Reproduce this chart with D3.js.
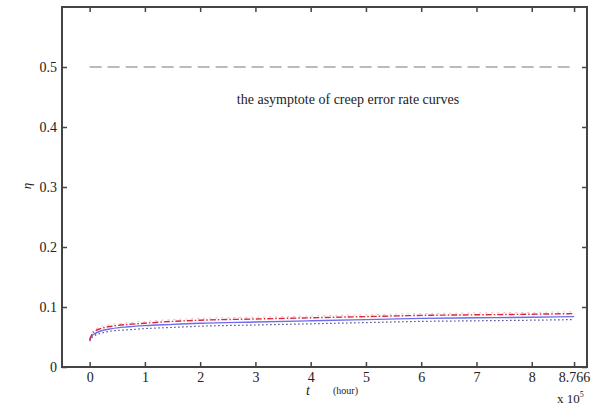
<!DOCTYPE html>
<html><head><meta charset="utf-8">
<script src="https://cdn.jsdelivr.net/npm/d3@7"></script>
<style>body{margin:0;background:#fff}svg{display:block}</style>
</head><body>
<script>
const tVals = [0, 0.05, 0.1, 0.2, 0.4, 0.7, 1, 1.5, 2, 3, 4, 5, 6, 7, 8, 8.766];
const redVals = [0.045, 0.056, 0.060, 0.064, 0.068, 0.071, 0.073, 0.076, 0.078, 0.080, 0.082, 0.084, 0.086, 0.087, 0.088, 0.089];
const blueVals = [0.045, 0.053, 0.056, 0.060, 0.064, 0.067, 0.069, 0.071, 0.073, 0.075, 0.077, 0.079, 0.081, 0.082, 0.083, 0.084];
const dotVals = [0.043, 0.050, 0.053, 0.056, 0.060, 0.062, 0.064, 0.066, 0.068, 0.070, 0.072, 0.074, 0.076, 0.077, 0.078, 0.079];
const xTicks = [0, 1, 2, 3, 4, 5, 6, 7, 8, 8.766];
const xTickLabels = ["0", "1", "2", "3", "4", "5", "6", "7", "8", "8.766"];
const yTicks = [0, 0.1, 0.2, 0.3, 0.4, 0.5];
const yTickLabels = ["0", "0.1", "0.2", "0.3", "0.4", "0.5"];
const asymptote = 0.5;

const W = 605, H = 407;
const m = {l: 62, t: 7, r: 605 - 587, b: 407 - 367};
const svg = d3.select("body").append("svg").attr("width", W).attr("height", H)
  .style("font-family", "'Liberation Serif', serif");
const x = d3.scaleLinear().domain([-0.5, 9]).range([m.l, W - m.r]);
const y = d3.scaleLinear().domain([0, 0.6]).range([H - m.b, m.t]);
const axisCol = "#444";

// asymptote
svg.append("line").attr("x1", x(0)).attr("x2", x(8.766)).attr("y1", y(asymptote)).attr("y2", y(asymptote))
  .attr("stroke", "#777").attr("stroke-width", 1.2).attr("stroke-dasharray", "12,6");
svg.append("text").attr("x", 348).attr("y", y(0.5) + 37).attr("text-anchor", "middle")
  .attr("font-size", 14).attr("fill", "#222").text("the asymptote of creep error rate curves");

const line = vals => d3.line().x((d, i) => x(tVals[i])).y(d => y(d)).curve(d3.curveMonotoneX)(vals);
svg.append("path").attr("d", line(dotVals)).attr("fill", "none").attr("stroke", "#4a4a8a")
  .attr("stroke-width", 1.2).attr("stroke-dasharray", "1.5,2.5");
svg.append("path").attr("d", line(blueVals)).attr("fill", "none").attr("stroke", "#6c6cf0")
  .attr("stroke-width", 1.4);
svg.append("path").attr("d", line(redVals.map(v => v + 0.003))).attr("fill", "none").attr("stroke", "#f4b8c0")
  .attr("stroke-width", 1).attr("stroke-dasharray", "2,4");
svg.append("path").attr("d", line(redVals)).attr("fill", "none").attr("stroke", "#d8283a")
  .attr("stroke-width", 1.4).attr("stroke-dasharray", "6,2,1.5,2");

// axes box
const g = svg.append("g");
g.append("rect").attr("x", m.l).attr("y", m.t).attr("width", W - m.r - m.l).attr("height", H - m.b - m.t)
  .attr("fill", "none").attr("stroke", axisCol).attr("stroke-width", 2);

const xb = svg.append("g").attr("transform", `translate(0,${H - m.b})`)
  .call(d3.axisBottom(x).tickValues(xTicks).tickSizeInner(-5).tickSizeOuter(0).tickPadding(5)
    .tickFormat((d, i) => xTickLabels[i]));
const xt = svg.append("g").attr("transform", `translate(0,${m.t})`)
  .call(d3.axisTop(x).tickValues(xTicks).tickSizeInner(-5).tickSizeOuter(0).tickFormat(""));
const yl = svg.append("g").attr("transform", `translate(${m.l},0)`)
  .call(d3.axisLeft(y).tickValues(yTicks).tickSizeInner(-5).tickSizeOuter(0).tickPadding(5)
    .tickFormat((d, i) => yTickLabels[i]));
const yr = svg.append("g").attr("transform", `translate(${W - m.r},0)`)
  .call(d3.axisRight(y).tickValues(yTicks).tickSizeInner(-5).tickSizeOuter(0).tickFormat(""));
[xb, xt, yl, yr].forEach(a => {
  a.select(".domain").remove();
  a.selectAll("line").attr("stroke", axisCol).attr("stroke-width", 1.5);
  a.selectAll("text").attr("font-size", 14).attr("fill", "#222").style("font-family", "'Liberation Serif', serif");
});
yl.selectAll("text").attr("dy", "0.35em");

// labels
svg.append("text").attr("x", 306).attr("y", 395).attr("font-size", 14).attr("font-style", "italic")
  .attr("fill", "#222").text("t");
svg.append("text").attr("x", 333).attr("y", 394).attr("font-size", 10).attr("fill", "#222").text("(hour)");
svg.append("text").attr("transform", "translate(31,186) rotate(-90)").attr("text-anchor", "middle")
  .attr("font-size", 13).attr("font-style", "italic").attr("fill", "#222").text("η");
const ex = svg.append("text").attr("x", 557).attr("y", 403).attr("font-size", 13).attr("fill", "#222");
ex.append("tspan").text("x 10");
ex.append("tspan").attr("dy", -6).attr("font-size", 8).text("5");
</script>
</body></html>
